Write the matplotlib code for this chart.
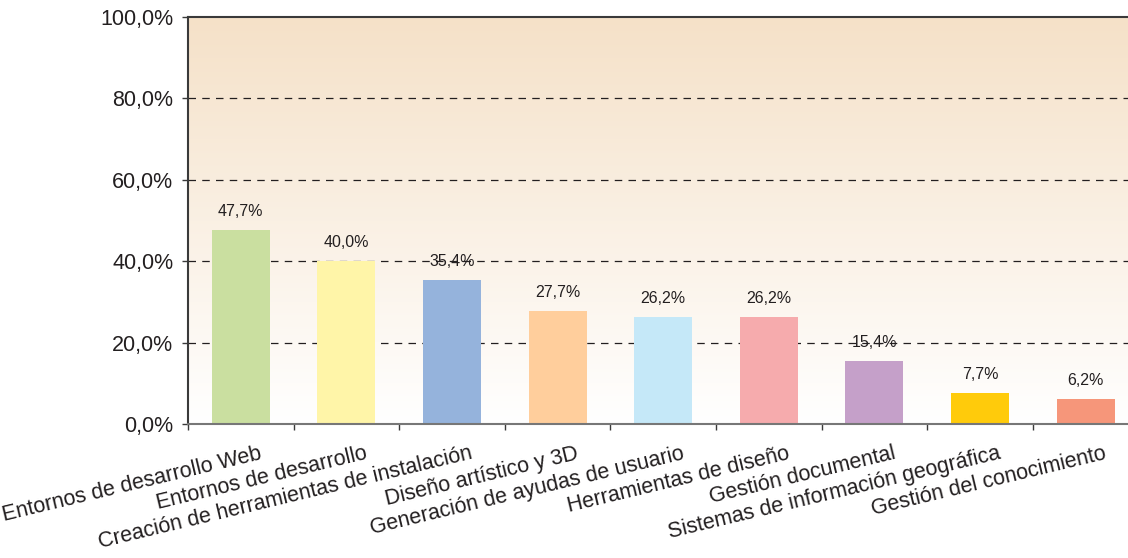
import numpy as np
import matplotlib.pyplot as plt
import matplotlib.transforms as mtransforms
from matplotlib.colors import LinearSegmentedColormap

# Datos del gráfico
categorias = ["Entornos de desarrollo Web", "Entornos de desarrollo",
              "Creación de herramientas de instalación", "Diseño artístico y 3D",
              "Generación de ayudas de usuario", "Herramientas de diseño",
              "Gestión documental", "Sistemas de información geográfica",
              "Gestión del conocimiento"]
valores = [47.7, 40.0, 35.4, 27.7, 26.2, 26.2, 15.4, 7.7, 6.2]
colores = ["#CADFA0", "#FFF5A8", "#95B3DC", "#FFCE9C", "#C5E8F8",
           "#F6ABAD", "#C5A0C9", "#FFCB0B", "#F6967A"]
ticks_y = [0, 20, 40, 60, 80, 100]

texto = "#231F20"
plt.rcParams['font.family'] = ['Liberation Sans', 'DejaVu Sans']

fig = plt.figure(figsize=(11.28, 5.58), dpi=100)
ax = fig.add_axes([188 / 1128, 134 / 558, 950.4 / 1128, 407 / 558])

n = len(categorias)
x = np.arange(n)
ax.set_xlim(-0.5, n - 0.5)
ax.set_ylim(0, 100)

# Fondo degradado (blanco abajo, crema arriba)
cmap = LinearSegmentedColormap.from_list("fondo", ["#FFFFFF", "#F5E1C8"])
grad = np.linspace(0, 1, 256).reshape(-1, 1)
ax.imshow(grad, cmap=cmap, aspect='auto', origin='lower',
          extent=[-0.5, n - 0.5, 0, 100], zorder=0)

# Cuadrícula discontinua
for v in ticks_y[1:-1]:
    ax.axhline(v, color='#231F20', linewidth=0.9, linestyle=(0, (6, 5)), zorder=1)

# Barras
barras = ax.bar(x, valores, width=0.55, color=colores, zorder=2)
for xi, v in zip(x, valores):
    ax.annotate(f"{v:.1f}%".replace('.', ','), (xi, v), xytext=(0, 8),
                textcoords='offset points', ha='center', va='bottom',
                fontsize=11.5, color=texto, zorder=3)

# Ejes
ax.set_yticks(ticks_y)
ax.set_yticklabels([f"{t:.1f}%".replace('.', ',') for t in ticks_y],
                   fontsize=15.5, color=texto)
ax.set_xticks(np.arange(n + 1) - 0.5)
ax.set_xticklabels([])
ax.tick_params(axis='both', direction='out', length=4.5, width=1, color='#3a3a3a')
ax.tick_params(axis='y', pad=6)

# Etiquetas de categoría giradas
desplaz = mtransforms.ScaledTranslation(18 / 100, -19 / 100, fig.dpi_scale_trans)
for xi, cat in zip(x, categorias):
    ax.text(xi, 0, cat, transform=ax.transData + desplaz, rotation=13.5,
            rotation_mode='anchor', ha='right', va='top',
            fontsize=15.5, color=texto)

for lado in ['left', 'top']:
    ax.spines[lado].set_color('#3a3a3a')
    ax.spines[lado].set_linewidth(1.5)
ax.spines['bottom'].set_color('#777777')
ax.spines['bottom'].set_linewidth(1.5)
ax.spines['right'].set_visible(False)

fig.savefig("out.png", dpi=100)
